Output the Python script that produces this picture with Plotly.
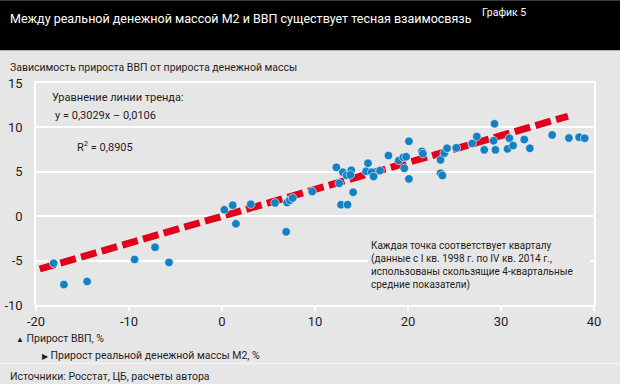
import plotly.graph_objects as go

# ---- data ----
m2_growth = [-18.1, -17.0, -14.5, -9.4, -7.2, -5.7, 0.25, 1.15, 1.5, 3.1, 5.7, 6.9, 7.0, 7.3, 7.6,
             9.7, 12.6, 12.8, 13.5, 12.3, 13.0, 13.4, 13.9, 13.8, 14.1, 15.7, 15.5, 16.1, 16.3, 17.0,
             17.9, 19.0, 19.5, 19.8, 19.6, 20.1, 20.1, 21.5, 21.6, 23.5, 23.5, 23.7, 23.9, 24.2, 25.2,
             26.9, 27.4, 28.2, 29.3, 29.2, 29.4, 30.7, 30.9, 31.3, 32.5, 33.1, 35.5, 37.3, 38.4, 39.0]
gdp_growth = [-5.3, -7.7, -7.35, -4.87, -3.5, -5.2, 0.72, 1.24, -0.86, 1.35, 1.5, -1.76, 1.54, 1.8, 2.05,
              2.78, 3.7, 1.3, 1.3, 5.5, 4.95, 4.6, 5.17, 4.65, 2.7, 5.96, 5.05, 4.95, 4.47, 5.14,
              6.83, 6.27, 6.64, 6.7, 5.4, 4.2, 8.44, 7.3, 7.05, 6.34, 4.84, 4.58, 7.1, 7.65, 7.7,
              8.2, 8.97, 7.47, 10.4, 8.5, 7.47, 7.58, 8.78, 7.95, 8.63, 7.65, 9.15, 8.8, 8.9, 8.78]
trend_slope = 0.3029
trend_intercept = -0.0106
trend_x = [-19.6, 37.2]
trend_y = [trend_slope * v + trend_intercept for v in trend_x]

x_ticks = [-20, -10, 0, 10, 20, 30, 40]
x_tick_labels = ["-20", "-10", "0", "10", "20", "30", "40"]
y_ticks = [-10, -5, 0, 5, 10, 15]
y_tick_labels = ["-10", "-5", "0", "5", "10", "15"]

# ---- layout geometry (pixels) ----
W, H = 620, 384
L, R, T, B = 36, 594, 82.7, 304.6
BG = "#e6e6e6"
FONT = "Roboto, Liberation Sans, sans-serif"
TXT = "#1e1e1e"


def px(x):
    return (x - L) / (R - L)


def py(y):
    return (B - y) / (B - T)


fig = go.Figure()
fig.add_trace(go.Scatter(
    x=trend_x, y=trend_y, mode="lines",
    line=dict(color="#e2001a", width=7, dash="16px,5.5px"),
    hoverinfo="skip", showlegend=False))
fig.add_trace(go.Scatter(
    x=m2_growth, y=gdp_growth, mode="markers",
    marker=dict(color="#1581c2", size=8.5, line=dict(color="rgba(255,255,255,0.55)", width=1)),
    showlegend=False))

shapes = [
    dict(type="rect", xref="paper", yref="paper", x0=px(0), x1=px(W), y0=py(50), y1=py(0),
         fillcolor="#000000", line=dict(width=0), layer="below"),
    dict(type="line", xref="paper", yref="paper", x0=px(0), x1=px(W), y0=py(363), y1=py(363),
         line=dict(color="#f4f4f4", width=1.5)),
]

ann = []


def text(x, y, s, size=12, color=TXT, **kw):
    d = dict(xref="paper", yref="paper", x=px(x), y=py(y), text=s, showarrow=False,
             xanchor="left", yanchor="middle", font=dict(family=FONT, size=size, color=color))
    d.update(kw)
    ann.append(d)


text(8, 18, "Между реальной денежной массой М2 и ВВП существует тесная взаимосвязь", size=12.5, color="#ffffff")
text(480, 12, "График 5", size=10.5, color="#ffffff")
text(8, 67, "Зависимость прироста ВВП от прироста денежной массы", size=10.5)
text(50, 97, "Уравнение линии тренда:", size=11)
text(53, 115, "y = 0,3029x – 0,0106", size=11)
text(75, 146, "R<sup>2</sup> = 0,8905", size=11)
text(367, 265.5,
     "Каждая точка соответствует кварталу<br>(данные с I кв. 1998 г. по IV кв. 2014 г.,<br>"
     "использованы скользящие 4-квартальные<br>средние показатели)",
     size=10, align="left", bgcolor=BG, borderpad=3, width=216)
text(14, 338, "<span style='font-size:8px'>▲</span> Прирост ВВП, %", size=10.5)
text(40, 355, "<span style='font-size:8px'>▶</span> Прирост реальной денежной массы М2, %", size=10.5)
text(8, 376, "Источники: Росстат, ЦБ, расчеты автора", size=10.5)

fig.update_layout(
    width=W, height=H,
    margin=dict(l=L, r=W - R, t=T, b=H - B, pad=0, autoexpand=False),
    paper_bgcolor=BG, plot_bgcolor=BG,
    shapes=shapes, annotations=ann,
    font=dict(family=FONT, size=13, color=TXT),
    xaxis=dict(range=[-20, 40], tickvals=x_ticks, ticktext=x_tick_labels, showgrid=False,
               zeroline=False, showline=True, linecolor="#ffffff", linewidth=1.5, mirror=True,
               ticks="outside", ticklen=4, tickcolor="#ffffff", tickwidth=1.5, automargin=False,
               tickfont=dict(family=FONT, size=13, color=TXT)),
    yaxis=dict(range=[-10, 15], tickvals=y_ticks, ticktext=y_tick_labels, showgrid=True,
               gridcolor="#ffffff", gridwidth=1.5, zeroline=False, showline=True,
               linecolor="#ffffff", linewidth=1.5, mirror=True, automargin=False,
               ticks="outside", ticklen=9, tickcolor="rgba(0,0,0,0)",
               tickfont=dict(family=FONT, size=13, color=TXT)),
)

fig.write_html("out.html", config={"displayModeBar": False},
               post_script="document.body.style.margin='0';")
